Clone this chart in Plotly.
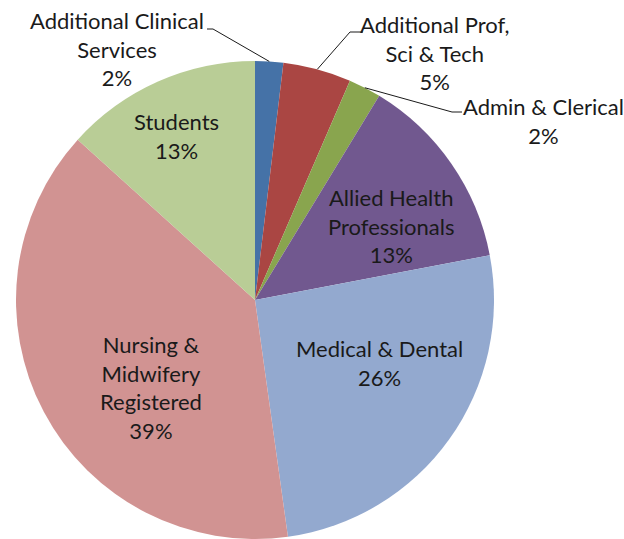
import math
import plotly.graph_objects as go

categories = ["Additional Clinical Services", "Additional Prof, Sci & Tech", "Admin & Clerical",
              "Allied Health Professionals", "Medical & Dental", "Nursing & Midwifery Registered", "Students"]
display_labels = ["Additional Clinical<br>Services", "Additional Prof,<br>Sci & Tech", "Admin & Clerical",
                  "Allied Health<br>Professionals", "Medical & Dental", "Nursing &<br>Midwifery<br>Registered", "Students"]
values = [1.9, 4.6, 2.2, 13.3, 25.8, 38.9, 13.3]
colors = ["#4572A7", "#AA4643", "#89A54E", "#71588F", "#93A9CF", "#D19392", "#B9CD96"]
outside = [True, True, True, False, False, False, False]

W, H = 624, 539
FONT = "Lato, Carlito, 'Liberation Sans', sans-serif"
FSIZE = 22
total = sum(values)
pcts = [v / total for v in values]

dom_x = [15 / W, 495 / W]
dom_y = [0, 1 - 61 / H]
cx_px = (dom_x[0] + dom_x[1]) / 2 * W
r_px = min((dom_x[1] - dom_x[0]) * W, (dom_y[1] - dom_y[0]) * H) / 2
cy_px = H - r_px

fig = go.Figure(go.Pie(
    labels=categories, values=values, sort=False, direction="clockwise", rotation=0,
    marker=dict(colors=colors, line=dict(width=0)),
    textinfo="none",
    domain=dict(x=dom_x, y=dom_y), showlegend=False, hoverinfo="label+percent",
))

# label placement (pixel centres); outside labels also get an elbow leader line
label_pos = {
    0: dict(tx=117, ty=49, ex=207, ey=29, hx=213),
    1: dict(tx=435, ty=53, ex=363, ey=32, hx=350),
    2: dict(tx=543, ty=121, ex=462, ey=112, hx=452),
    3: dict(tx=391, ty=226),
    4: dict(tx=380, ty=363),
    5: dict(tx=151, ty=387),
    6: dict(tx=176, ty=136),
}

def px2paper(x, y):
    return x / W, 1 - y / H

annotations = []
shapes = []
cum = 0.0
for i, p in enumerate(pcts):
    mid = (cum + p / 2) * 2 * math.pi
    cum += p
    L = label_pos[i]
    if outside[i]:
        sx = cx_px + r_px * math.sin(mid)
        sy = cy_px - r_px * math.cos(mid)
        x0, y0 = px2paper(sx, sy)
        x1, y1 = px2paper(L["hx"], L["ey"])
        x2, y2 = px2paper(L["ex"], L["ey"])
        shapes.append(dict(type="path", xref="paper", yref="paper",
                           path=f"M {x0} {y0} L {x1} {y1} L {x2} {y2}",
                           line=dict(color="#1a1a1a", width=1)))
    tx, ty = px2paper(L["tx"], L["ty"])
    annotations.append(dict(x=tx, y=ty, xref="paper", yref="paper", showarrow=False,
                            text=f"{display_labels[i]}<br>{round(p*100)}%",
                            font=dict(family=FONT, size=FSIZE, color="#1a1a1a"),
                            align="center", xanchor="center", yanchor="middle"))

fig.update_layout(width=W, height=H, margin=dict(l=0, r=0, t=0, b=0),
                  paper_bgcolor="white", plot_bgcolor="white",
                  annotations=annotations, shapes=shapes)
fig.write_html("out.html", config={"displayModeBar": False},
               post_script="document.body.style.margin='0';")
